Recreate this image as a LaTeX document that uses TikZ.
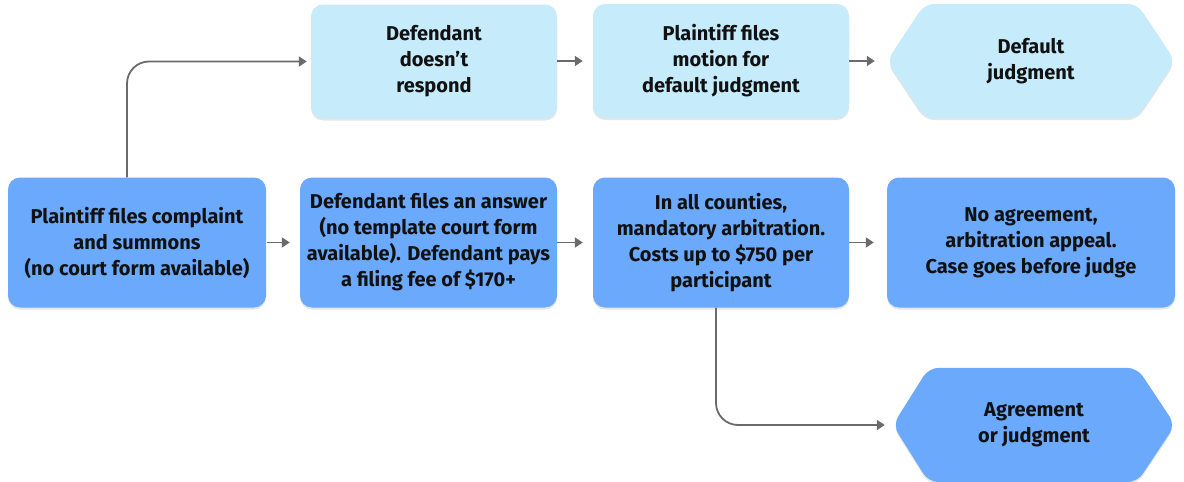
\documentclass[tikz,border=0pt]{standalone}
\usepackage{fontspec}
\setmainfont{Fira Sans}
\usetikzlibrary{arrows.meta,shadows,backgrounds}
\definecolor{lightfill}{HTML}{C6EBFB}
\definecolor{darkfill}{HTML}{6AA9FC}
\definecolor{arrowgray}{HTML}{6B6B6B}
\definecolor{txt}{HTML}{111111}
\tikzset{
  boxtext/.style={align=center, text=txt, inner sep=0pt,
    font=\fontsize{20}{26}\selectfont\bfseries},
  flowbox/.style={boxtext, rounded corners=12pt,
    drop shadow={shadow xshift=0pt, shadow yshift=-2pt, opacity=0.10, fill=black}},
  lightbox/.style={flowbox, fill=lightfill},
  darkbox/.style={flowbox, fill=darkfill},
  hexbox/.style={boxtext, minimum height=114pt},
  hexshape/.style={rounded corners=10pt,
    drop shadow={shadow xshift=0pt, shadow yshift=-2pt, opacity=0.10, fill=black}},
  conn/.style={draw=arrowgray, line width=1.8pt,
    -{Triangle[length=8pt,width=10pt]}},
}
\begin{document}
\begin{tikzpicture}[x=1pt,y=-1pt]
\useasboundingbox (0,0) rectangle (1184,482);

% bottom row
\node[darkbox, minimum width=258pt, minimum height=130pt] (A) at (137,242.5)
  {Plaintiff files complaint\\and summons\\(no court form available)};
\node[darkbox, minimum width=257pt, minimum height=130pt] (B) at (428.5,242.5)
  {Defendant files an answer\\(no template court form\\available). Defendant pays\\a filing fee of \$170+};
\node[darkbox, minimum width=256pt, minimum height=130pt] (C) at (721,242.5)
  {In all counties,\\mandatory arbitration.\\Costs up to \$750 per\\participant};
\node[darkbox, minimum width=288pt, minimum height=130pt] (D) at (1031,242.5)
  {No agreement,\\arbitration appeal.\\Case goes before judge};

% top row
\node[lightbox, minimum width=246pt, minimum height=114pt] (E) at (434,61.5)
  {Defendant\\doesn’t\\respond};
\node[lightbox, minimum width=256pt, minimum height=114pt] (F) at (721,61)
  {Plaintiff files\\motion for\\default judgment};
\node[hexbox, minimum width=288pt] (G) at (1031,61) {Default\\judgment};
\node[hexbox, minimum width=282pt] (H) at (1034,425) {Agreement\\or judgment};

\begin{scope}[on background layer]
  \fill[white] (0,0) rectangle (1184,482);
  \fill[lightfill, hexshape] (G.west) -- ([xshift=38pt]G.north west) -- ([xshift=-38pt]G.north east)
    -- (G.east) -- ([xshift=-38pt]G.south east) -- ([xshift=38pt]G.south west) -- cycle;
  \fill[darkfill, hexshape] (H.west) -- ([xshift=36pt]H.north west) -- ([xshift=-38pt]H.north east)
    -- (H.east) -- ([xshift=-38pt]H.south east) -- ([xshift=36pt]H.south west) -- cycle;
\end{scope}

% connectors
\draw[conn, shorten <=1pt, shorten >=10pt] (A) -- (B);
\draw[conn, shorten >=10pt] (B) -- (C);
\draw[conn, shorten >=13pt] (C) -- (D);
\draw[conn, shorten >=10pt] (E.east |- F.west) -- (F.west);
\draw[conn, shorten >=12pt] (F) -- (G);
\draw[conn, rounded corners=22pt, shorten >=4pt] ([xshift=-10pt]A.north) |- (E.west);
\draw[conn, rounded corners=22pt, shorten >=8pt] ([xshift=-5pt]C.south) |- (H.west);
\end{tikzpicture}
\end{document}
